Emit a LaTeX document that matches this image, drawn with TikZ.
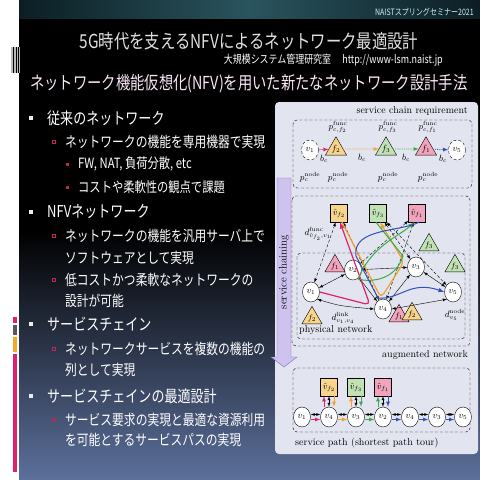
\documentclass[tikz,border=0pt]{standalone}
\usepackage{fontspec}
\usepackage{amsmath}
\usepackage{tikz}
\usetikzlibrary{shapes.geometric}
\newfontfamily\jp[FakeStretch=0.8]{Noto Sans CJK JP}
\definecolor{slideblue}{RGB}{92,112,155}
\definecolor{bandteal}{RGB}{42,84,94}
\definecolor{banddark}{RGB}{12,30,36}
\definecolor{boxbg}{RGB}{226,228,239}
\definecolor{fyel}{RGB}{248,212,140}
\definecolor{fgrn}{RGB}{192,226,180}
\definecolor{fpnk}{RGB}{242,164,188}
\definecolor{pmag}{RGB}{222,32,110}
\definecolor{porg}{RGB}{242,160,40}
\definecolor{pgrn}{RGB}{60,170,70}
\definecolor{pblu}{RGB}{50,80,190}
\definecolor{bulred}{RGB}{190,40,80}
\definecolor{chainfill}{RGB}{205,195,238}
\definecolor{chaindraw}{RGB}{130,110,200}
\definecolor{headpink}{RGB}{250,230,245}

\begin{document}
\begin{tikzpicture}[x=1pt,y=-1pt,>=latex,
  lvone/.style={anchor=west,inner sep=0pt,text=white,font=\jp\fontsize{16.3}{18}\selectfont},
  lvtwo/.style={anchor=west,inner sep=0pt,text=white,font=\jp\fontsize{14.7}{16}\selectfont},
  lvthree/.style={anchor=west,inner sep=0pt,text=white,font=\jp\fontsize{14.1}{16}\selectfont},
  bulone/.style={fill=white!85!gray,inner sep=0pt,minimum size=4pt},
  bultwo/.style={draw=bulred,line width=0.8pt,inner sep=0pt,minimum size=3.6pt},
  bulthree/.style={fill=bulred,inner sep=0pt,minimum size=3pt},
  phys/.style={ellipse,draw,fill=white,inner sep=0pt,minimum width=17pt,minimum height=20pt,font=\small},
  reqend/.style={ellipse,draw,densely dashed,fill=white,inner sep=0pt,minimum width=17pt,minimum height=20pt,font=\small},
  hatbox/.style={draw,inner sep=0pt,minimum width=17pt,minimum height=18pt,font=\small},
  reqfun/.style={regular polygon,regular polygon sides=3,draw,inner sep=0pt,minimum size=23pt,font=\small},
  fun/.style={regular polygon,regular polygon sides=3,draw,inner sep=0pt,minimum size=18pt,font=\footnotesize},
  dbox/.style={draw,densely dashed,rounded corners=4pt},
  dlbl/.style={inner sep=1pt,font=\fontsize{10}{12}\selectfont},
  mlbl/.style={inner sep=0pt,font=\small},
  plink/.style={<->,thin},
  flink/.style={<->,densely dashed,thin},
  magp/.style={pmag,line width=1.2pt},
  orgp/.style={porg,line width=1.2pt},
  grnp/.style={pgrn,line width=1pt},
  blup/.style={pblu,line width=1pt}]

\useasboundingbox (0,0) rectangle (480,480);
\fill[white] (0,0) rectangle (480,480);
\fill[black] (19,0) rectangle (480,480);
\shade[top color=black,bottom color=slideblue] (19,230) rectangle (480,480);
\shade[left color=banddark,right color=banddark,middle color=bandteal] (19,0) rectangle (480,18);

\fill[gray!55] (11,47) rectangle (20,73);
\draw[black,line width=0.8pt] (13.5,47) -- (13.5,73) (16,47) -- (16,73) (18.5,47) -- (18.5,73);
\fill[pmag] (13,317) rectangle (17,323);
\fill[gray!70!black] (13,325) rectangle (17,335);
\fill[porg!90!yellow] (13,337) rectangle (17,352);
\fill[pmag] (13,354) rectangle (17,472);

\node[anchor=east,inner sep=0pt,text=white!80!cyan,font=\jp\fontsize{8.8}{10}\selectfont] (seminar) at (474,12) {NAISTスプリングセミナー2021};
\node[inner sep=0pt,text=white!88!black,font=\jp\fontsize{19.2}{22}\selectfont] (title) at (249,41) {5G時代を支えるNFVによるネットワーク最適設計};
\node[anchor=east,inner sep=0pt,text=white,font=\jp\fontsize{11.2}{13}\selectfont] (lab) at (443,60) {大規模システム管理研究室\quad http://www-lsm.naist.jp};
\node[anchor=west,inner sep=0pt,text=headpink,font=\jp\fontsize{17.9}{20}\selectfont] (heading) at (30,84) {ネットワーク機能仮想化(NFV)を用いた新たなネットワーク設計手法};

\node[bulone] (p1) at (31,118) {};
\node[lvone] (t1) at (47,118) {従来のネットワーク};
\node[bultwo] (p2) at (54,142) {};
\node[lvtwo] (t2) at (65,142) {ネットワークの機能を専用機器で実現};
\node[bulthree] (p3) at (67,164) {};
\node[lvthree] (t3) at (78,164) {FW, NAT, 負荷分散, etc};
\node[bulthree] (p4) at (67,187) {};
\node[lvthree] (t4) at (78,187) {コストや柔軟性の観点で課題};
\node[bulone] (p5) at (31,212) {};
\node[lvone] (t5) at (47,212) {NFVネットワーク};
\node[bultwo] (p6) at (54,236) {};
\node[lvtwo] (t6) at (65,236) {ネットワークの機能を汎用サーバ上で};
\node[lvtwo] (t6b) at (65,258) {ソフトウェアとして実現};
\node[bultwo] (p7) at (54,280) {};
\node[lvtwo] (t7) at (65,280) {低コストかつ柔軟なネットワークの};
\node[lvtwo] (t7b) at (65,301) {設計が可能};
\node[bulone] (p8) at (31,324) {};
\node[lvone] (t8) at (47,324) {サービスチェイン};
\node[bultwo] (p9) at (54,349) {};
\node[lvtwo] (t9) at (65,349) {ネットワークサービスを複数の機能の};
\node[lvtwo] (t9b) at (65,370) {列として実現};
\node[bulone] (p10) at (31,396) {};
\node[lvone] (t10) at (47,396) {サービスチェインの最適設計};
\node[bultwo] (p11) at (54,420) {};
\node[lvtwo] (t11) at (65,420) {サービス要求の実現と最適な資源利用};
\node[lvtwo] (t11b) at (65,440) {を可能とするサービスパスの実現};

\fill[boxbg,rounded corners=4pt] (275,102) rectangle (478,454);

\node[dlbl,anchor=east] (reqlbl) at (469,111) {service chain requirement};
\draw[dbox] (293,120) rectangle (472,188);
\node[reqend] (cv1) at (310,150) {$v_1$};
\node[reqfun,fill=fyel] (cf2) at (336,149) {$f_2$};
\node[reqfun,fill=fgrn] (cf3) at (386,149) {$f_3$};
\node[reqfun,fill=fpnk] (cf1) at (426,149) {$f_1$};
\node[reqend] (cv5) at (457,150) {$v_5$};
\draw[pmag,densely dotted,thick,->] (cv1) -- (cf2);
\draw[porg,densely dotted,thick,->] (cf2) -- (cf3);
\draw[pgrn,densely dotted,thick,->] (cf3) -- (cf1);
\draw[pblu,densely dotted,thick,->] (cf1) -- (cv5);
\node[mlbl] (fa) at (338,127) {$p^{\mathrm{func}}_{c,f_2}$};
\node[mlbl] (fb) at (388,127) {$p^{\mathrm{func}}_{c,f_3}$};
\node[mlbl] (fc) at (428,127) {$p^{\mathrm{func}}_{c,f_1}$};
\node[mlbl] (na) at (310,177) {$p^{\mathrm{node}}_{c}$};
\node[mlbl] (nb) at (338,177) {$p^{\mathrm{node}}_{c}$};
\node[mlbl] (nc) at (388,177) {$p^{\mathrm{node}}_{c}$};
\node[mlbl] (nd) at (428,177) {$p^{\mathrm{node}}_{c}$};
\node[mlbl] (ba) at (324,159) {$b_c$};
\node[mlbl] (bb) at (362,158) {$b_c$};
\node[mlbl] (bc) at (406,158) {$b_c$};
\node[mlbl] (bd) at (443,159) {$b_c$};

\draw[chaindraw,fill=chainfill] (277,178) -- (291,178) -- (291,357) -- (297,357) -- (284,367) -- (271,357) -- (277,357) -- cycle;
\node[rotate=90,inner sep=0pt,font=\fontsize{11}{12}\selectfont] (chaining) at (284,272) {service chaining};

\draw[dbox] (292,196) rectangle (470,346);
\node[dlbl,anchor=east] (auglbl) at (469,355) {augmented network};
\draw[dbox] (297,253) rectangle (465,339);
\node[dlbl,anchor=west] (physlbl) at (298,330) {physical network};

\node[hatbox,fill=fyel] (hf2) at (339,213) {$\hat v_{f_2}$};
\node[hatbox,fill=fgrn] (hf3) at (378,213) {$\hat v_{f_3}$};
\node[hatbox,fill=fpnk] (hf1) at (417,213) {$\hat v_{f_1}$};
\node[phys] (v1) at (311,292) {$v_1$};
\node[phys] (v2) at (353,270) {$v_2$};
\node[phys] (v3) at (416,267) {$v_3$};
\node[phys] (v4) at (383,309) {$v_4$};
\node[phys] (v5) at (453,292) {$v_5$};
\node[fun,fill=fpnk] (tf1a) at (335,266) {$f_1$};
\node[fun,fill=fyel] (tf2a) at (312,318) {$f_2$};
\node[fun,fill=fgrn] (tf3a) at (429,245) {$f_3$};
\node[fun,fill=fgrn] (tf3b) at (455,266) {$f_3$};
\node[fun,fill=fpnk] (tf1b) at (399,316) {$f_1$};
\node[fun,fill=fyel] (tf2b) at (412,314) {$f_2$};

\draw[plink] (v1) -- (v2);
\draw[plink] (v1.south east) .. controls (340,306) .. (v4.west);
\draw[plink] (v2) -- (v3);
\draw[plink] (v2) -- (v4);
\draw[plink] (v3) -- (v4);
\draw[plink] (v3) -- (v5);
\draw[plink] (v4.east) -- (v5.south west);
\draw[flink] (hf2) -- (v1);
\draw[flink] (hf2) -- (v4);
\draw[flink] (hf3) -- (v3);
\draw[flink] (hf3) -- (v5);
\draw[flink] (hf1) -- (v2);
\draw[flink] (hf1) -- (v4);

\draw[magp,->,rounded corners=5pt] (v1.east) -- (370,305) -- ([xshift=1pt]hf2.south);
\draw[orgp,->,rounded corners=5pt] ([xshift=3pt]hf2.south) -- (381,298) -- (404,262) -- ([xshift=2pt]hf3.south);
\draw[grnp,->] ([xshift=-2pt]hf3.south) -- (403,256) .. controls (395,282) and (368,282) .. (358,279) .. controls (372,245) and (400,236) .. ([xshift=-3pt]hf1.south);
\draw[blup,->] ([xshift=2pt]hf1.south) .. controls (400,232) and (352,228) .. (356,256) -- (378,298) .. controls (400,300) and (410,280) .. (v5.west);

\node[mlbl] (dfunc) at (318,234) {$d^{\mathrm{func}}_{\hat v_{f_2},v_1}$};
\node[mlbl] (dlink) at (343,318) {$d^{\mathrm{link}}_{v_1,v_4}$};
\node[mlbl] (dnode) at (455,315) {$d^{\mathrm{node}}_{v_5}$};

\draw[dbox] (293,368) rectangle (470,432);
\node[dlbl,anchor=west] (pathlbl) at (294,443) {service path (shortest path tour)};
\node[phys] (s1) at (302,417) {$v_1$};
\node[phys] (s2) at (329,417) {$v_4$};
\node[phys] (s3) at (356,417) {$v_3$};
\node[phys] (s4) at (383,417) {$v_2$};
\node[phys] (s5) at (410,417) {$v_4$};
\node[phys] (s6) at (437,417) {$v_3$};
\node[phys] (s7) at (463,417) {$v_5$};
\node[hatbox,fill=fyel] (sf2) at (329,387) {$\hat v_{f_2}$};
\node[hatbox,fill=fgrn] (sf3) at (356,387) {$\hat v_{f_3}$};
\node[hatbox,fill=fpnk] (sf1) at (383,387) {$\hat v_{f_1}$};

\draw[plink] ([yshift=2.5pt]s1.east) -- ([yshift=2.5pt]s2.west);
\draw[plink] ([yshift=2.5pt]s2.east) -- ([yshift=2.5pt]s3.west);
\draw[plink] ([yshift=2.5pt]s3.east) -- ([yshift=2.5pt]s4.west);
\draw[plink] ([yshift=2.5pt]s4.east) -- ([yshift=2.5pt]s5.west);
\draw[plink] ([yshift=2.5pt]s5.east) -- ([yshift=2.5pt]s6.west);
\draw[plink] ([yshift=2.5pt]s6.east) -- ([yshift=2.5pt]s7.west);
\draw[pmag,thick,->] ([yshift=-2.5pt]s1.east) -- ([yshift=-2.5pt]s2.west);
\draw[porg,thick,->] ([yshift=-2.5pt]s2.east) -- ([yshift=-2.5pt]s3.west);
\draw[pgrn,thick,->] ([yshift=-2.5pt]s3.east) -- ([yshift=-2.5pt]s4.west);
\draw[pblu,thick,->] ([yshift=-2.5pt]s4.east) -- ([yshift=-2.5pt]s5.west);
\draw[pblu,thick,->] ([yshift=-2.5pt]s5.east) -- ([yshift=-2.5pt]s6.west);
\draw[pblu,thick,->] ([yshift=-2.5pt]s6.east) -- ([yshift=-2.5pt]s7.west);
\draw[flink] (sf2) -- (s2);
\draw[flink] (sf3) -- (s3);
\draw[flink] (sf1) -- (s4);
\draw[pmag,thick,->] ([xshift=-5pt]s2.north) -- ([xshift=-5pt]sf2.south);
\draw[porg,thick,->] ([xshift=5pt]sf2.south) -- ([xshift=5pt]s2.north);
\draw[porg,thick,->] ([xshift=-5pt]s3.north) -- ([xshift=-5pt]sf3.south);
\draw[pgrn,thick,->] ([xshift=5pt]sf3.south) -- ([xshift=5pt]s3.north);
\draw[pgrn,thick,->] ([xshift=-5pt]s4.north) -- ([xshift=-5pt]sf1.south);
\draw[pblu,thick,->] ([xshift=5pt]sf1.south) -- ([xshift=5pt]s4.north);
\end{tikzpicture}
\end{document}
